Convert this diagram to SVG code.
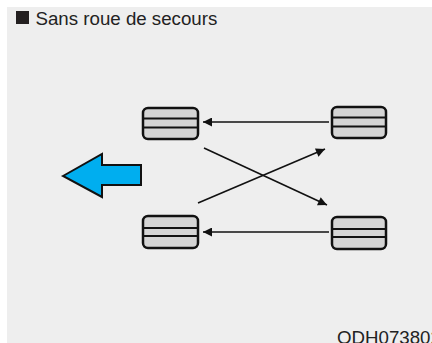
<svg xmlns="http://www.w3.org/2000/svg" width="432" height="343" viewBox="0 0 432 343">
<defs>
<style>
.box{fill:#d4d4d4;stroke:#111;stroke-width:2.5}
.div{stroke:#111;stroke-width:2}
.con{stroke:#111;stroke-width:1.6;fill:none}
.t{font-family:"Liberation Sans",Arial,sans-serif;font-size:18.7px;fill:#222}
</style>
<marker id="ah" viewBox="0 0 10 10" refX="10" refY="5" markerWidth="11" markerHeight="9" markerUnits="userSpaceOnUse" orient="auto">
<path d="M0,0 L10,5 L0,10 Z" fill="#111"/>
</marker>
</defs>
<rect x="0" y="0" width="432" height="343" fill="#fff"/>
<rect x="7" y="7" width="425" height="336" fill="#eeeeee"/>
<g id="title">
<rect x="16" y="11" width="13" height="13" fill="#231f20"/>
<text class="t" x="35.5" y="24.5">Sans roue de secours</text>
</g>
<g id="node-tl">
<rect class="box" x="143" y="108" width="55" height="31" rx="5"/>
<line class="div" x1="143" y1="118.5" x2="198" y2="118.5"/>
<line class="div" x1="143" y1="127.5" x2="198" y2="127.5"/>
</g>
<g id="node-tr">
<rect class="box" x="332" y="107" width="54" height="31" rx="5"/>
<line class="div" x1="332" y1="117.5" x2="386" y2="117.5"/>
<line class="div" x1="332" y1="126.5" x2="386" y2="126.5"/>
</g>
<g id="node-bl">
<rect class="box" x="143" y="216" width="55" height="32" rx="5"/>
<line class="div" x1="143" y1="228" x2="198" y2="228"/>
<line class="div" x1="143" y1="236" x2="198" y2="236"/>
</g>
<g id="node-br">
<rect class="box" x="332" y="217" width="54" height="32" rx="5"/>
<line class="div" x1="332" y1="229" x2="386" y2="229"/>
<line class="div" x1="332" y1="237" x2="386" y2="237"/>
</g>
<g id="direction-arrow">
<path d="M63,176 L102,154 L102,165 L141,165 L141,185 L102,185 L102,197 Z" fill="#00aeef" stroke="#111" stroke-width="2" stroke-linejoin="miter"/>
</g>
<g id="connectors">
<line class="con" x1="329" y1="122" x2="203" y2="122" marker-end="url(#ah)"/>
<line class="con" x1="329" y1="232" x2="203" y2="232" marker-end="url(#ah)"/>
<line class="con" x1="204" y1="148" x2="327" y2="205" marker-end="url(#ah)"/>
<line class="con" x1="198" y1="203" x2="325" y2="149" marker-end="url(#ah)"/>
</g>
<text class="t" x="337" y="343.5">ODH073802</text>
</svg>
